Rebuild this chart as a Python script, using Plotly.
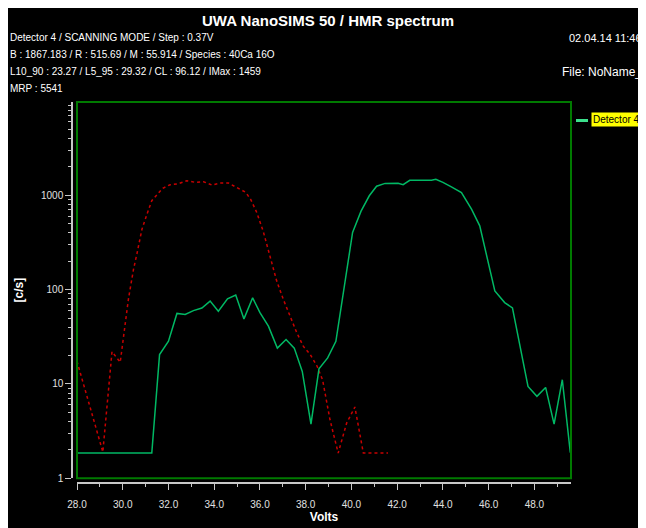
import plotly.graph_objects as go

# ---- data ----
green_x = [28.0, 31.27, 31.61, 32.0, 32.37, 32.73, 33.09, 33.46, 33.82, 34.18, 34.58, 34.94,
           35.3, 35.68, 36.0, 36.37, 36.76, 37.14, 37.5, 37.85, 38.23, 38.58, 38.96, 39.32,
           40.05, 40.42, 40.78, 41.1, 41.47, 41.83, 42.04, 42.26, 42.55, 43.0, 43.5, 43.69,
           44.0, 44.37, 44.81, 45.25, 45.61, 46.27, 46.7, 47.04, 47.72, 48.11, 48.49, 48.86,
           49.22, 49.57]
green_y = [1.85, 1.85, 20.5, 28.4, 56, 54.6, 60, 64, 75.6, 59, 80, 87.6,
           49, 82, 57, 41, 24, 29.6, 24, 13.6, 3.75, 14.5, 18.9, 28.4,
           404, 680, 990, 1250, 1340, 1345, 1342, 1297, 1445, 1445, 1445, 1480,
           1375, 1231, 1072, 715, 475, 97, 73, 64, 9.4, 7.4, 9.2, 3.75,
           11.1, 1.87]

red_x = [28.0, 29.13, 29.53, 29.89, 30.25, 30.47, 30.62, 30.84, 31.06, 31.27, 31.75, 32.07,
         32.4, 32.8, 33.17, 33.53, 33.9, 34.26, 34.62, 34.95, 35.38, 35.6, 35.86, 36.15,
         36.44, 36.73, 37.02, 37.31, 37.61, 37.9, 38.2, 38.5, 38.74, 39.06, 39.42, 39.79,
         40.15, 40.52, 41.6]
red_y = [17.4, 1.9, 22, 17, 80, 164, 240, 437, 632, 877, 1190, 1297,
         1320, 1430, 1374, 1396, 1288, 1352, 1352, 1230, 1077, 900, 659, 410,
         225, 124, 79, 52, 35, 25, 20.5, 15.4, 11, 4.2, 1.85, 3.85,
         5.7, 1.85, 1.85]

x_ticks = [28, 30, 32, 34, 36, 38, 40, 42, 44, 46, 48]
x_ticktext = ["28.0", "30.0", "32.0", "34.0", "36.0", "38.0", "40.0", "42.0", "44.0", "46.0", "48.0"]
y_ticks = [1, 10, 100, 1000]
y_ticktext = ["1", "10", "100", "1000"]

title = "UWA NanoSIMS 50 / HMR spectrum"
info_lines = ["Detector 4 / SCANNING MODE / Step : 0.37V",
              "B : 1867.183 / R : 515.69 / M : 55.914 / Species : 40Ca 16O",
              "L10_90 : 23.27 / L5_95 : 29.32 / CL : 96.12 / IMax : 1459",
              "MRP : 5541"]
date_text = "02.04.14 11:46"
file_text = "File: NoName_4"
legend_text = "Detector 4"

FONT = "Liberation Sans, Arial, sans-serif"

# ---- layout geometry (figure pixels; page has an 8px body margin) ----
OFF = 8
W, H = 646, 528 - OFF
L = 72 - OFF           # y-axis line
T = 102 - OFF          # plot top
PLOT_R = 571 - OFF     # plot right
PLOT_B = 483 - OFF     # x-axis line
R, B = W - PLOT_R, H - PLOT_B
PW, PH = W - L - R, H - T - B


def xp(page_px):
    return (page_px - OFF - L) / PW


def yp(page_py):
    return (H - B - (page_py - OFF)) / PH


fig = go.Figure()
fig.add_trace(go.Scatter(x=red_x, y=red_y, mode="lines",
                         line=dict(color="#c80000", width=1.5, dash="3px,3px"),
                         showlegend=False, hoverinfo="skip"))
fig.add_trace(go.Scatter(x=green_x, y=green_y, mode="lines",
                         line=dict(color="#00b864", width=1.5),
                         showlegend=False, hoverinfo="skip"))

minor_y = [m * 10 ** e for e in range(4) for m in range(2, 10)]
axis_col = "#c8c8c8"
tick_font = dict(family=FONT, size=10, color="#e0e0e0")

fig.update_layout(
    width=W, height=H,
    margin=dict(l=L, r=R, t=T, b=B, pad=0, autoexpand=False),
    paper_bgcolor="black", plot_bgcolor="black",
    showlegend=False,
    xaxis=dict(range=[28, 49.6], domain=[xp(77), 1], anchor="free", position=0,
               automargin=False,
               tickvals=x_ticks, ticktext=x_ticktext, ticks="outside", ticklen=6,
               ticklabelstandoff=6,
               tickcolor=axis_col, tickwidth=1, showline=True, linecolor=axis_col, linewidth=1.5,
               showgrid=False, zeroline=False, tickfont=tick_font,
               minor=dict(tickvals=[29, 31, 33, 35, 37, 39, 41, 43, 45, 47, 49], ticks="outside",
                          ticklen=3, tickcolor=axis_col, showgrid=False),
               title=dict(text="<b>Volts</b>", font=dict(family=FONT, size=12, color="white"),
                          standoff=3)),
    yaxis=dict(type="log", range=[0, 3.99], domain=[yp(478.3), 1], anchor="free", position=0,
               automargin=False,
               tickvals=y_ticks, ticktext=y_ticktext, ticks="outside", ticklen=6,
               tickcolor=axis_col, tickwidth=1, showline=True, linecolor=axis_col, linewidth=1.5,
               showgrid=False, zeroline=False, tickfont=tick_font,
               minor=dict(tickvals=minor_y, ticks="outside", ticklen=3, tickcolor=axis_col,
                          showgrid=False),
               title=dict(text="<b>[c/s]</b>", font=dict(family=FONT, size=12, color="white"),
                          standoff=14)),
)

shapes = [
    dict(type="rect", xref="x domain", yref="y domain", x0=0, x1=1, y0=0, y1=1,
         line=dict(color="#007a00", width=2), layer="above"),
    dict(type="line", xref="paper", yref="paper", x0=xp(576), x1=xp(588), y0=yp(120.5), y1=yp(120.5),
         line=dict(color="#3ce08c", width=3), layer="above"),
]
fig.update_layout(shapes=shapes)

ann = [dict(text="<b>" + title + "</b>", x=xp(328), y=yp(21), xanchor="center", yanchor="middle",
            font=dict(family=FONT, size=15, color="white"))]
for i, t in enumerate(info_lines):
    ann.append(dict(text=t, x=xp(8), y=yp(37.5 + 17 * i), xanchor="left", yanchor="middle",
                    font=dict(family=FONT, size=10, color="white")))
ann.append(dict(text=date_text, x=xp(567), y=yp(37.5), xanchor="left", yanchor="middle",
                font=dict(family=FONT, size=11, color="white")))
ann.append(dict(text=file_text, x=xp(559.5), y=yp(72), xanchor="left", yanchor="middle",
                font=dict(family=FONT, size=12, color="white")))
ann.append(dict(text=legend_text, x=xp(590.5), y=yp(119.5), xanchor="left", yanchor="middle",
                bgcolor="#ffff00", borderpad=1,
                font=dict(family=FONT, size=10, color="black")))
for a in ann:
    a.update(xref="paper", yref="paper", showarrow=False)
fig.update_layout(annotations=ann)

fig.write_html("out.html",
               post_script="document.documentElement.style.overflow='hidden';"
                           "document.body.style.overflow='hidden';")
